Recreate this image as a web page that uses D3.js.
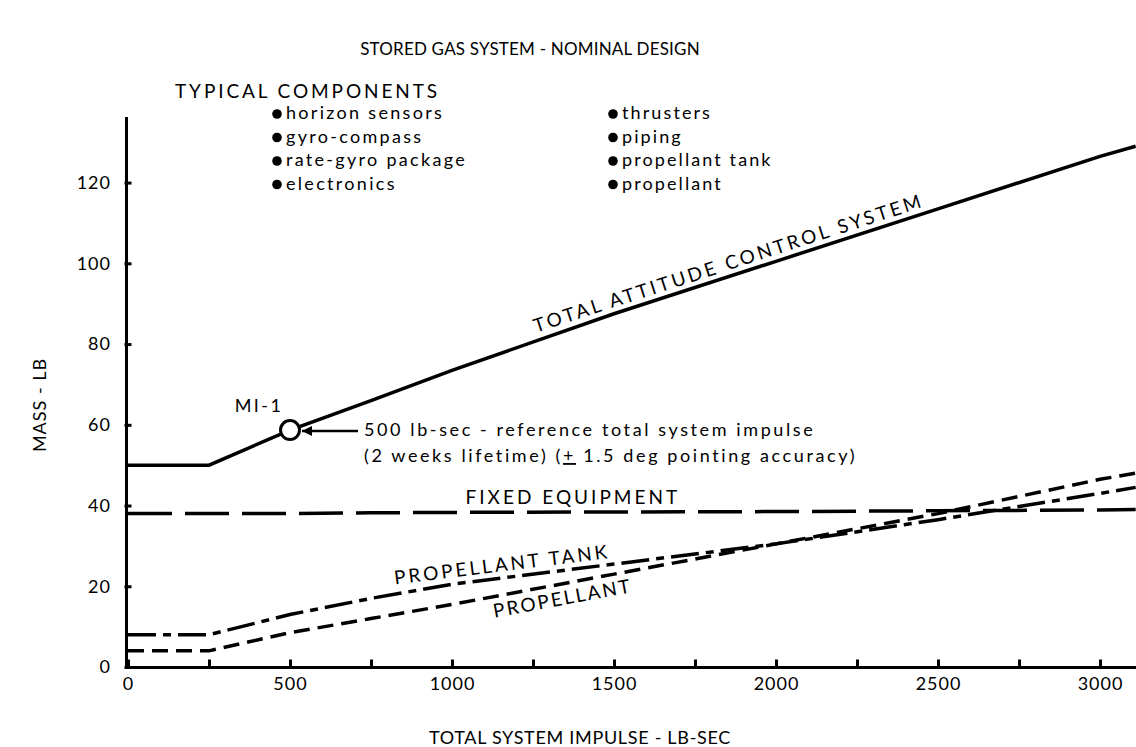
<!DOCTYPE html>
<html>
<head>
<meta charset="utf-8">
<script src="https://cdn.jsdelivr.net/npm/d3@7"></script>
<style>
  body { margin: 0; background: #fff; }
  svg { display: block; font-family: Lato, "DejaVu Sans", sans-serif; }
  .axis path, .axis line { stroke: #000; stroke-width: 3; stroke-linecap: square; }
  .axis text { font-family: Lato, "DejaVu Sans", sans-serif; font-size: 18px; letter-spacing: 1px; fill: #000; }
  .curve { fill: none; stroke: #000; stroke-width: 3.5; }
  .label { font-size: 18px; letter-spacing: 2.4px; fill: #000; }
  .caps { font-size: 19px; letter-spacing: 3px; fill: #000; }
</style>
</head>
<body>
<script>
// values (lb-sec vs lb)
const impulse = [0, 250, 500, 750, 1000, 1500, 2000, 2500, 3000, 3110];
const totalMass = [50, 50, 58.7, 66, 73.5, 87.5, 100.5, 113.5, 126.5, 129];
const fixedMass = [38, 38, 38, 38.2, 38.3, 38.4, 38.5, 38.7, 38.9, 39];
const tankMass = [8, 8, 13, 17, 20.5, 25.5, 30.5, 36.5, 43, 44.5];
const propMass = [4, 4, 8.5, 12, 15.5, 23, 30.5, 38, 46.5, 48];

const xTicks = [0, 250, 500, 750, 1000, 1250, 1500, 1750, 2000, 2250, 2500, 2750, 3000];
const yTicks = [0, 20, 40, 60, 80, 100, 120];

const componentsLeft = ["horizon sensors", "gyro-compass", "rate-gyro package", "electronics"];
const componentsRight = ["thrusters", "piping", "propellant tank", "propellant"];

const refImpulse = 500, refMass = 58.7;

const width = 1136, height = 747;

const x = d3.scaleLinear([0, 3111], [128, 1136]);
const y = d3.scaleLinear([0, 136], [667, 118]);

const svg = d3.select("body").append("svg")
    .attr("width", width)
    .attr("height", height);

svg.append("defs").append("marker")
    .attr("id", "arrow")
    .attr("viewBox", "0 0 10 10")
    .attr("refX", 10).attr("refY", 5)
    .attr("markerUnits", "userSpaceOnUse")
    .attr("markerWidth", 16).attr("markerHeight", 10)
    .attr("orient", "auto")
  .append("path")
    .attr("d", "M0,0 L10,5 L0,10 Z");

// axes
svg.append("g")
    .attr("class", "axis")
    .attr("transform", "translate(0," + y(0) + ")")
    .call(d3.axisBottom(x)
      .tickValues(xTicks)
      .tickSizeInner(-6)
      .tickSizeOuter(0)
      .tickPadding(10)
      .tickFormat(d => d % 500 ? "" : d));

svg.append("g")
    .attr("class", "axis")
    .attr("transform", "translate(" + (x(0) - 2) + ",0)")
    .call(d3.axisLeft(y)
      .tickValues(yTicks)
      .tickSizeInner(-4)
      .tickSizeOuter(0)
      .tickPadding(15));

// curves
const series = [
  { values: totalMass, dash: null },
  { values: fixedMass, dash: "44,13" },
  { values: tankMass, dash: "28,7,8,7" },
  { values: propMass, dash: "16,8" }
];

const line = d3.line()
    .x((d, i) => x(impulse[i]))
    .y(d => y(d));

svg.selectAll(".curve")
  .data(series)
  .enter()
  .append("path")
    .attr("class", "curve")
    .attr("d", d => line(d.values))
    .attr("stroke-dasharray", d => d.dash);

// reference point MI-1
const cx = x(refImpulse), cy = y(refMass);

svg.append("line")
    .attr("x1", cx + 68).attr("y1", cy + 1)
    .attr("x2", cx + 12).attr("y2", cy + 1)
    .attr("stroke", "#000")
    .attr("stroke-width", 2.5)
    .attr("marker-end", "url(#arrow)");

svg.append("circle")
    .attr("cx", cx).attr("cy", cy).attr("r", 9.5)
    .attr("fill", "#fff")
    .attr("stroke", "#000")
    .attr("stroke-width", 3);

svg.append("text")
    .attr("class", "label")
    .attr("x", cx - 31).attr("y", cy - 18)
    .attr("text-anchor", "middle")
    .text("MI-1");

const note = svg.append("text")
    .attr("class", "label")
    .style("letter-spacing", "2.6px")
    .attr("x", cx + 74).attr("y", cy + 6);
note.append("tspan").text("500 lb-sec - reference total system impulse");
const note2 = note.append("tspan").attr("x", cx + 74).attr("dy", 26);
note2.append("tspan").text("(2 weeks lifetime) (");
note2.append("tspan").attr("text-decoration", "underline").text("+");
note2.append("tspan").text(" 1.5 deg pointing accuracy)");

// curve labels
function curveLabel(text, px, py, angle, spacing) {
  svg.append("text")
      .attr("class", "caps")
      .attr("text-anchor", "middle")
      .style("letter-spacing", spacing + "px")
      .attr("transform", "translate(" + px + "," + py + ") rotate(" + angle + ")")
      .text(text);
}

curveLabel("TOTAL ATTITUDE CONTROL SYSTEM", x(1860), y(97) - 6, -18, 3);
curveLabel("FIXED EQUIPMENT", x(1373), y(38.4) - 8, 0, 3);
curveLabel("PROPELLANT TANK", x(1157), y(22) - 7, -7, 3);
curveLabel("PROPELLANT", x(1345), y(20.6) + 21, -10.5, 2.2);

// titles
svg.append("text")
    .attr("class", "caps")
    .attr("x", 530).attr("y", 55)
    .attr("text-anchor", "middle")
    .style("font-size", "17px")
    .style("letter-spacing", "0.2px")
    .text("STORED GAS SYSTEM - NOMINAL DESIGN");

svg.append("text")
    .attr("class", "caps")
    .attr("x", 580).attr("y", 744)
    .attr("text-anchor", "middle")
    .style("font-size", "18px")
    .style("letter-spacing", "0.7px")
    .text("TOTAL SYSTEM IMPULSE - LB-SEC");

svg.append("text")
    .attr("class", "caps")
    .attr("transform", "translate(46,405) rotate(-90)")
    .attr("text-anchor", "middle")
    .style("font-size", "18px")
    .style("letter-spacing", "1px")
    .text("MASS - LB");

svg.append("text")
    .attr("class", "caps")
    .attr("x", 175).attr("y", 98)
    .style("letter-spacing", "2.9px")
    .text("TYPICAL COMPONENTS");

// component list
[[componentsLeft, 277, 2.3], [componentsRight, 613, 2.1]].forEach(([items, bx, sp]) => {
  const g = svg.append("g");
  items.forEach((t, i) => {
    const by = 119 + i * 23.5;
    g.append("circle").attr("cx", bx).attr("cy", by - 5).attr("r", 4.8).attr("fill", "#000");
    g.append("text").attr("class", "label")
        .style("letter-spacing", sp + "px")
        .attr("x", bx + 9).attr("y", by).text(t);
  });
});
</script>
</body>
</html>
